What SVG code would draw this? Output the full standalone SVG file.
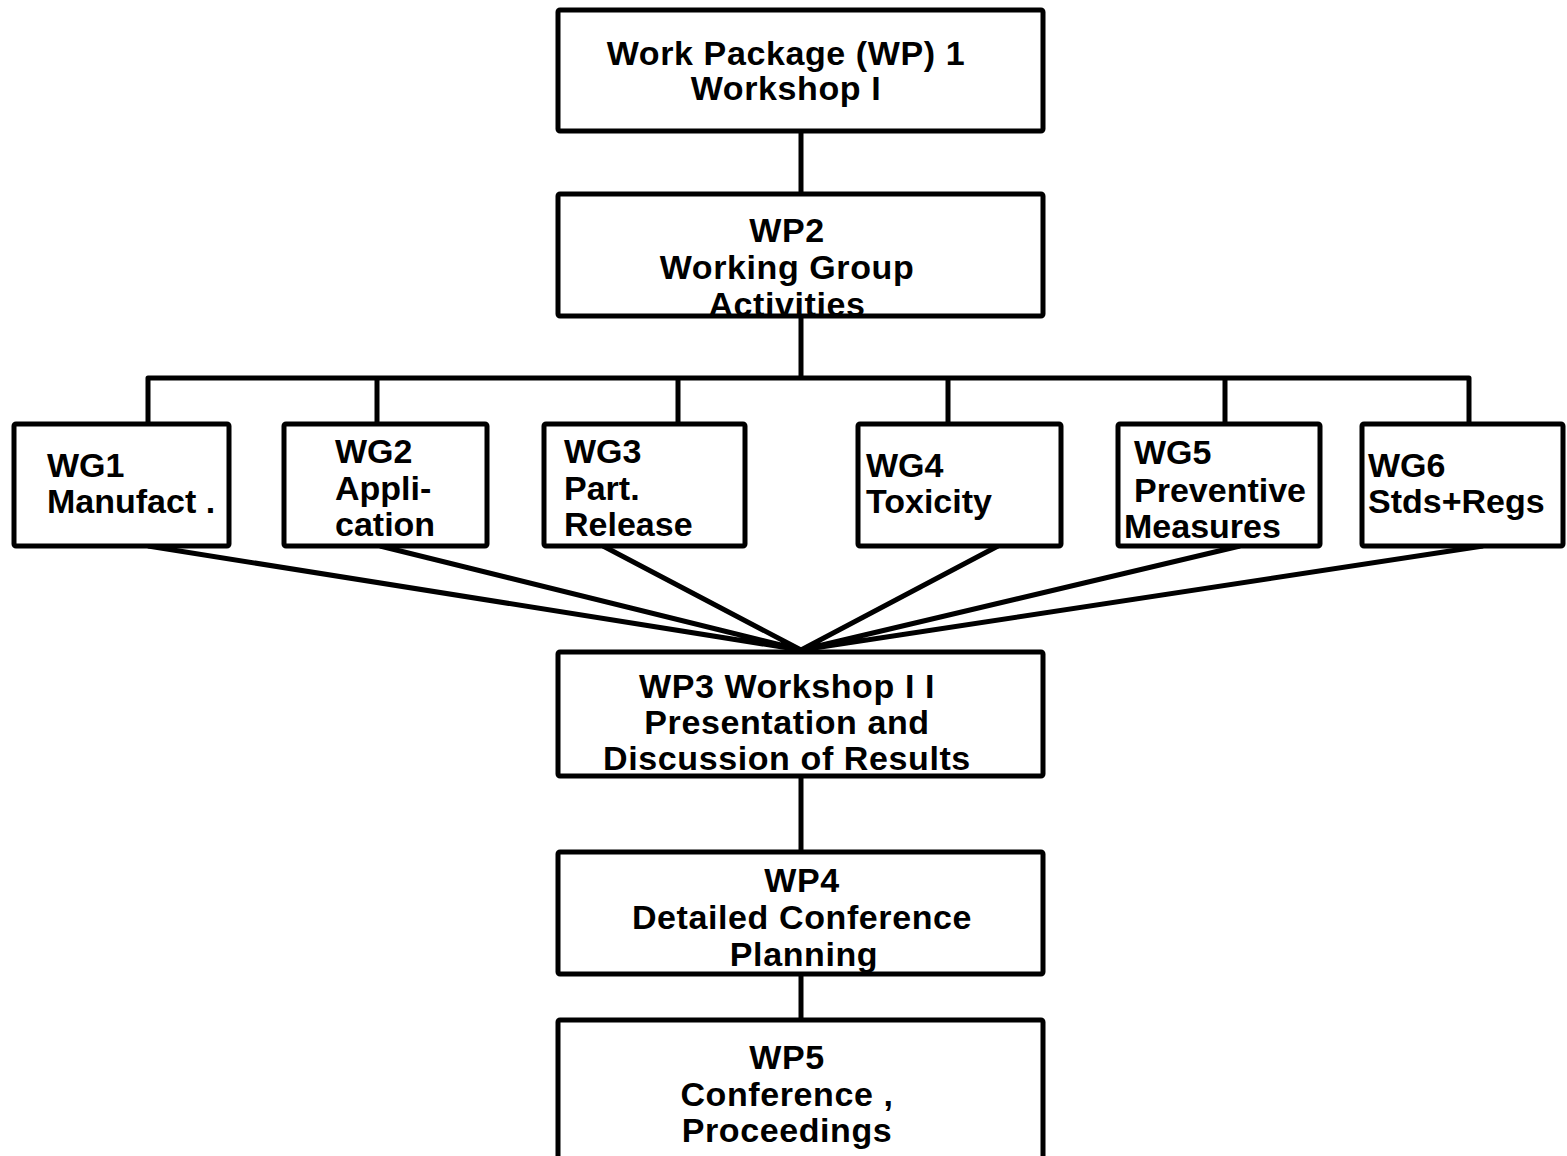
<svg xmlns="http://www.w3.org/2000/svg" width="1567" height="1156" viewBox="0 0 1567 1156">
<style>
.bg{fill:#fff;stroke:none}
.bx{fill:none;stroke:#000;stroke-width:5;stroke-linejoin:round}
.ln{fill:none;stroke:#000;stroke-width:5;stroke-linejoin:round;stroke-linecap:butt}
text{font-family:"Liberation Sans",Arial,sans-serif;font-weight:bold;font-size:34px;fill:#000}
.c{text-anchor:middle;letter-spacing:0.6px}
</style>
<rect width="1567" height="1156" fill="#fff"/>
<g id="connectors">
<path class="ln" d="M801,131 V194"/>
<path class="ln" d="M801,316 V378"/>
<path class="ln" d="M148,424 V378 H1469 V424"/>
<path class="ln" d="M377,378 V424 M678,378 V424 M948,378 V424 M1225,378 V424"/>
<path class="ln" d="M148,546 L801,650 M380,546 L801,650 M603,546 L801,650 M998,546 L801,650 M1240,546 L801,650 M1483,546 L801,650"/>
<path class="ln" d="M801,776 V852"/>
<path class="ln" d="M801,974 V1020"/>
</g>
<g id="wp1">
<rect class="bg" x="558" y="10" width="485" height="121"/>
<text class="c" x="786" y="65">Work Package  (WP) 1</text>
<text class="c" x="786" y="100">Workshop I</text>
<rect class="bx" x="558" y="10" width="485" height="121" rx="2"/>
</g>
<g id="wp2">
<rect class="bg" x="558" y="194" width="485" height="122"/>
<text class="c" x="787" y="242">WP2</text>
<text class="c" x="787" y="279">Working Group</text>
<text class="c" x="787" y="316">Activities</text>
<rect class="bx" x="558" y="194" width="485" height="122" rx="2"/>
</g>
<g id="wg1">
<rect class="bg" x="14" y="424" width="215" height="122"/>
<text x="47" y="477">WG1</text>
<text x="47" y="513">Manufact .</text>
<rect class="bx" x="14" y="424" width="215" height="122" rx="2"/>
</g>
<g id="wg2">
<rect class="bg" x="284" y="424" width="203" height="122"/>
<text x="335" y="463">WG2</text>
<text x="335" y="500">Appli-</text>
<text x="335" y="536">cation</text>
<rect class="bx" x="284" y="424" width="203" height="122" rx="2"/>
</g>
<g id="wg3">
<rect class="bg" x="544" y="424" width="201" height="122"/>
<text x="564" y="463">WG3</text>
<text x="564" y="500">Part.</text>
<text x="564" y="536">Release</text>
<rect class="bx" x="544" y="424" width="201" height="122" rx="2"/>
</g>
<g id="wg4">
<rect class="bg" x="858" y="424" width="203" height="122"/>
<text x="866" y="477">WG4</text>
<text x="866" y="513">Toxicity</text>
<rect class="bx" x="858" y="424" width="203" height="122" rx="2"/>
</g>
<g id="wg5">
<rect class="bg" x="1118" y="424" width="202" height="122"/>
<text x="1134" y="464">WG5</text>
<text x="1134" y="502">Preventive</text>
<text x="1124" y="538">Measures</text>
<rect class="bx" x="1118" y="424" width="202" height="122" rx="2"/>
</g>
<g id="wg6">
<rect class="bg" x="1362" y="424" width="201" height="122"/>
<text x="1368" y="477">WG6</text>
<text x="1368" y="513">Stds+Regs</text>
<rect class="bx" x="1362" y="424" width="201" height="122" rx="2"/>
</g>
<g id="wp3">
<rect class="bg" x="558" y="652" width="485" height="124"/>
<text class="c" x="787" y="698">WP3 Workshop I I</text>
<text class="c" x="787" y="734">Presentation and</text>
<text class="c" x="787" y="770">Discussion of Results</text>
<rect class="bx" x="558" y="652" width="485" height="124" rx="2"/>
</g>
<g id="wp4">
<rect class="bg" x="558" y="852" width="485" height="122"/>
<text class="c" x="802" y="892">WP4</text>
<text class="c" x="802" y="929">Detailed Conference</text>
<text class="c" x="804" y="966">Planning</text>
<rect class="bx" x="558" y="852" width="485" height="122" rx="2"/>
</g>
<g id="wp5">
<rect class="bg" x="558" y="1020" width="485" height="150"/>
<text class="c" x="787" y="1069">WP5</text>
<text class="c" x="787" y="1106">Conference ,</text>
<text class="c" x="787" y="1142">Proceedings</text>
<rect class="bx" x="558" y="1020" width="485" height="150" rx="2"/>
</g>
</svg>
